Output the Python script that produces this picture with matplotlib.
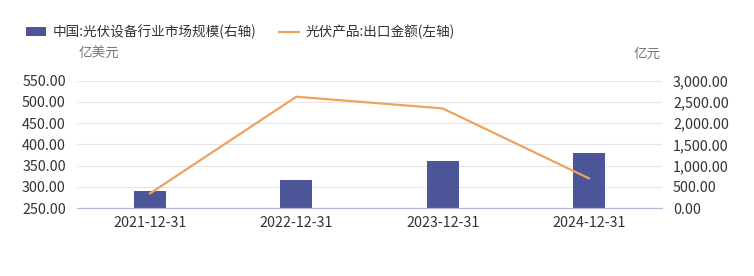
import matplotlib.pyplot as plt
from matplotlib.ticker import FuncFormatter

plt.rcParams['font.family'] = ['Noto Sans CJK SC', 'DejaVu Sans']

dates = ['2021-12-31', '2022-12-31', '2023-12-31', '2024-12-31']
market_size = [400, 659, 1106, 1301]      # 亿元, right axis
export_value = [284.6, 512, 484.6, 320]   # 亿美元, left axis

bar_color = '#4b5597'
line_color = '#eea35c'
text_color = '#333333'
grid_color = '#e6e6ea'

fig = plt.figure(figsize=(7.54, 2.76), dpi=100)
ax = fig.add_axes([0.102, 0.246, 0.776, 0.462])
ax2 = ax.twinx()

x = list(range(len(dates)))
bars = ax2.bar(x, market_size, width=0.22, color=bar_color, zorder=2,
               label='中国:光伏设备行业市场规模(右轴)')
line, = ax.plot(x, export_value, color=line_color, lw=1.6, zorder=3,
                label='光伏产品:出口金额(左轴)')

ax.set_zorder(ax2.get_zorder() + 1)
ax.patch.set_visible(False)

ax.set_xlim(-0.5, 3.5)
ax.set_ylim(250, 550)
ax.set_yticks([250, 300, 350, 400, 450, 500, 550])
ax2.set_ylim(0, 3000)
ax2.set_yticks([0, 500, 1000, 1500, 2000, 2500, 3000])

ax.yaxis.set_major_formatter(FuncFormatter(lambda v, p: f'{v:,.2f}'))
ax2.yaxis.set_major_formatter(FuncFormatter(lambda v, p: f'{v:,.2f}'))

ax.set_xticks(x)
ax.set_xticklabels(dates)

ax2.grid(axis='y', color=grid_color, lw=0.8, zorder=0)
ax2.set_axisbelow(True)

for a in (ax, ax2):
    for s in ('top', 'left', 'right'):
        a.spines[s].set_visible(False)
    a.spines['bottom'].set_color('#b8b8d8')
    a.tick_params(length=0, labelsize=10.3, colors=text_color)
ax.tick_params(axis='y', pad=8)
ax2.tick_params(axis='y', pad=8)
ax.tick_params(axis='x', pad=6)

fig.text(0.104, 0.805, '亿美元', fontsize=9.8, color='#777777', ha='left', va='center')
fig.text(0.876, 0.805, '亿元', fontsize=9.8, color='#777777', ha='right', va='center')

fig.legend(handles=[bars, line], loc='center left', bbox_to_anchor=(0.018, 0.885),
           ncol=2, frameon=False, fontsize=9.8, handlelength=1.5, handleheight=0.6,
           handletextpad=0.5, columnspacing=1.6, labelcolor=text_color)

fig.savefig('out.png', dpi=100)
